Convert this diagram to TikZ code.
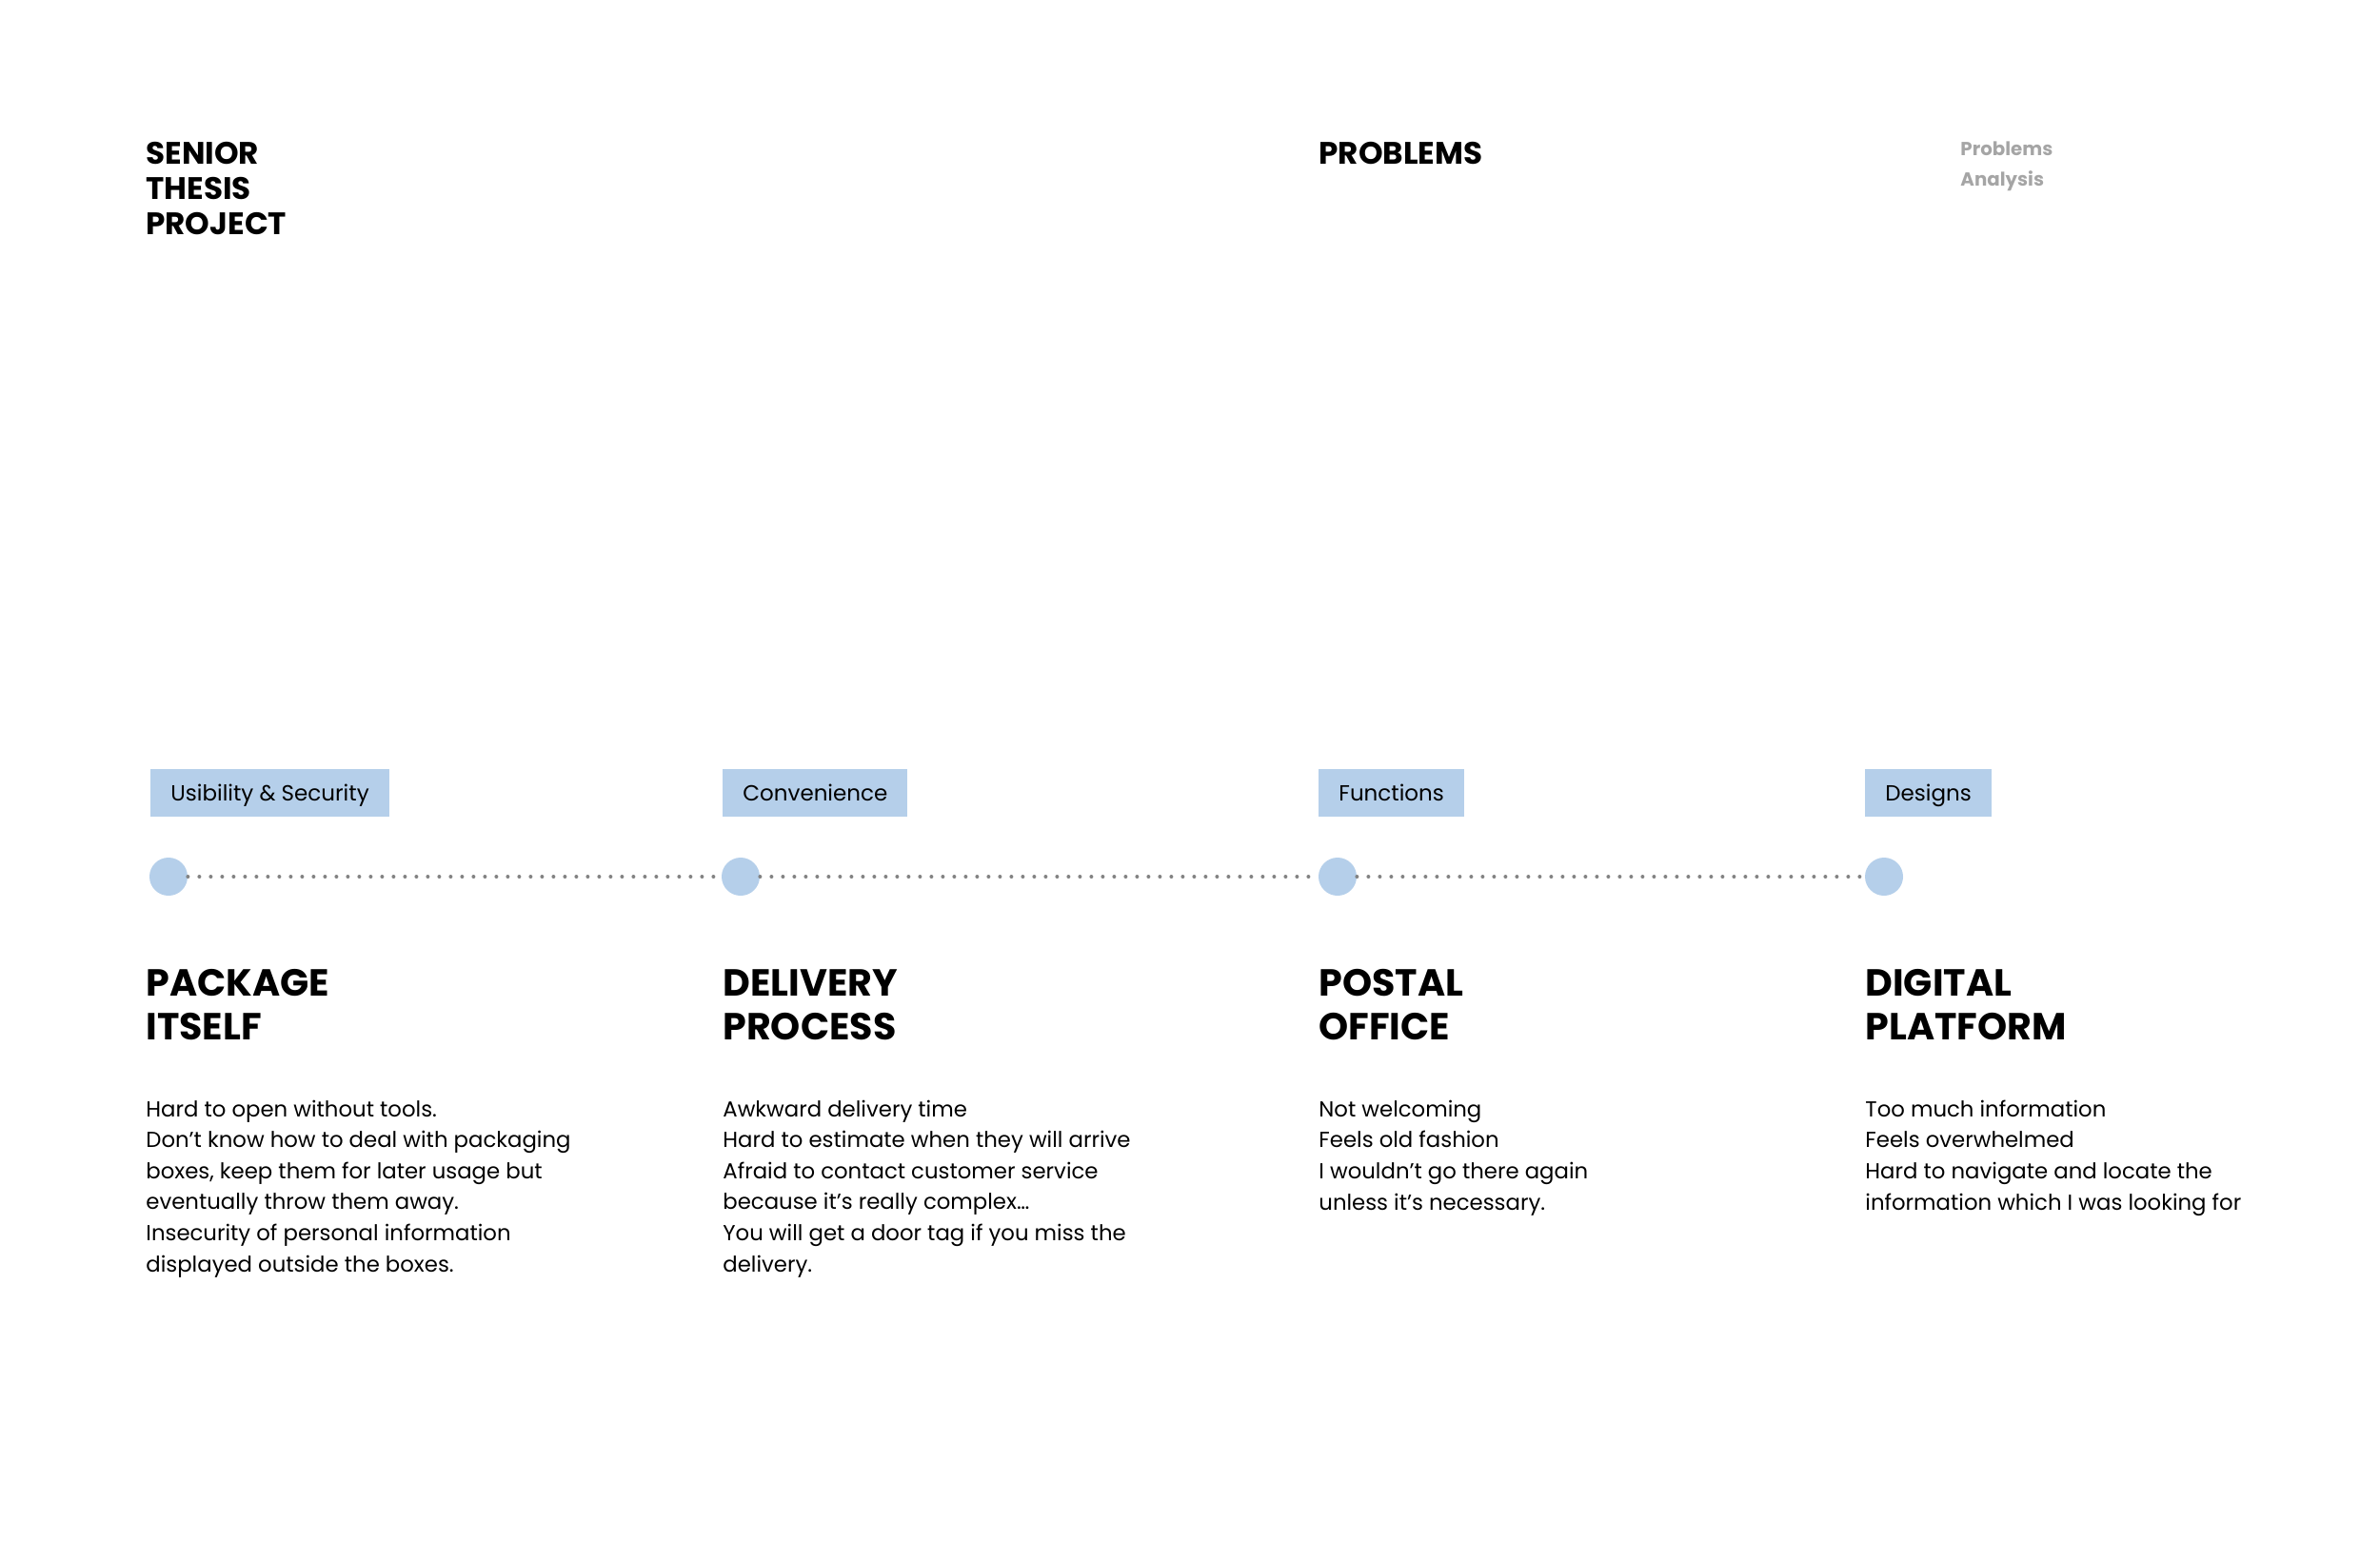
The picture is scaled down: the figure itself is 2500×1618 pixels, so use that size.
\documentclass[tikz,border=0pt]{standalone}
\usepackage{fontspec}
\setmainfont{Poppins}
\definecolor{tagblue}{RGB}{181,207,234}
\definecolor{dotgray}{RGB}{130,130,130}
\definecolor{softgray}{RGB}{165,165,165}

\begin{document}
\begin{tikzpicture}[x=0.5pt, y=-0.5pt,
    every node/.style={inner sep=0pt, anchor=base west, align=left},
    titletext/.style={font=\fontsize{16.3}{18.5}\selectfont\bfseries},
    sidetext/.style={font=\fontsize{9.9}{16}\selectfont\bfseries, text=softgray},
    tagbox/.style={fill=tagblue, anchor=west, minimum height=25pt, inner xsep=10.5pt,
      text height=8pt, text depth=0pt, font=\fontsize{11.5}{12}\selectfont},
    milestone/.style={circle, fill=tagblue, minimum size=20pt, inner sep=0pt, anchor=center},
    headtext/.style={font=\fontsize{19.8}{23}\selectfont\bfseries},
    bodytext/.style={font=\fontsize{11.4}{16.3}\selectfont},
    trail/.style={dotgray, line width=2pt, dash pattern=on 0pt off 6pt, line cap=round}]
  \useasboundingbox (0,0) rectangle (2500,1618);

  % top row (base = last line)
  \node[titletext] (thesis) at (153,246) {SENIOR\\THESIS\\PROJECT};
  \node[titletext] (problems) at (1385,172) {PROBLEMS};
  \node[sidetext] (analysis) at (2059,195) {Problems\\Analysis};

  % tags
  \node[tagbox] (tag1) at (158,833) {Usibility \& Security};
  \node[tagbox] (tag2) at (759,833) {Convenience};
  \node[tagbox] (tag3) at (1385,833) {Functions};
  \node[tagbox] (tag4) at (1959,833) {Designs};

  % timeline
  \node[milestone] (m1) at (177,921) {};
  \node[milestone] (m2) at (778,921) {};
  \node[milestone] (m3) at (1405,921) {};
  \node[milestone] (m4) at (1979,921) {};
  \draw[trail] (m1) -- (m2);
  \draw[trail] (m2) -- (m3);
  \draw[trail] (m3) -- (m4);

  % headings
  \node[headtext] (head1) at (153,1092) {PACKAGE\\ITSELF};
  \node[headtext] (head2) at (759,1092) {DELIVERY\\PROCESS};
  \node[headtext] (head3) at (1385,1092) {POSTAL\\OFFICE};
  \node[headtext] (head4) at (1959,1092) {DIGITAL\\PLATFORM};

  % problem lists
  \node[bodytext] (list1) at (153,1336) {Hard to open without tools.\\Don’t know how to deal with packaging\\boxes, keep them for later usage but\\eventually throw them away.\\Insecurity of personal information\\displayed outside the boxes.};
  \node[bodytext] (list2) at (759,1336) {Awkward delivery time\\Hard to estimate when they will arrive\\Afraid to contact customer service\\because it’s really complex…\\You will get a door tag if you miss the\\delivery.};
  \node[bodytext] (list3) at (1385,1271) {Not welcoming\\Feels old fashion\\I wouldn’t go there again\\unless it’s necessary.};
  \node[bodytext] (list4) at (1959,1271) {Too much information\\Feels overwhelmed\\Hard to navigate and locate the\\information which I was looking for};
\end{tikzpicture}
\end{document}
